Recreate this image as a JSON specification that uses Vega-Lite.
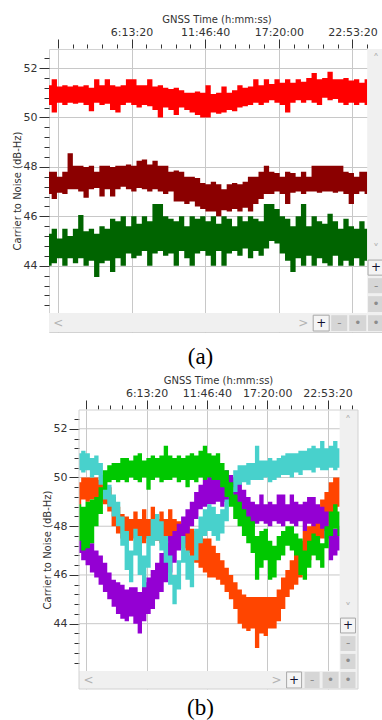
{
"$schema": "https://vega.github.io/schema/vega-lite/v6.json",
"padding": {"left": 11, "top": 13, "right": 0, "bottom": 0},
"background": "white",
"spacing": 5,
"config": {
  "view": {"stroke": "#d2d2d2", "strokeWidth": 1},
  "axis": {"labelFont": "DejaVu Sans", "labelFontSize": 11, "labelColor": "#333333", "titleFont": "DejaVu Sans", "titleFontSize": 10, "titleFontWeight": "normal", "titleColor": "#333333", "tickColor": "#333333", "tickWidth": 1, "gridColor": "#c8c8c8", "gridWidth": 1, "domain": false, "labelOverlap": false, "labelFlush": false}
},
"datasets": {
"aR": [{"t":0,"lo":50.5,"hi":51.3},{"t":1440,"lo":50.2,"hi":51.55},{"t":2880,"lo":50.6,"hi":51.25},{"t":4320,"lo":50.5,"hi":51.3},{"t":5760,"lo":50.6,"hi":51.25},{"t":7200,"lo":50.55,"hi":51.3},{"t":8640,"lo":50.6,"hi":51.25},{"t":10080,"lo":50.5,"hi":51.3},{"t":11520,"lo":50.25,"hi":51.2},{"t":12960,"lo":50.6,"hi":51.55},{"t":14400,"lo":50.5,"hi":51.3},{"t":15840,"lo":50.55,"hi":51.55},{"t":17280,"lo":50.3,"hi":51.3},{"t":18720,"lo":50.2,"hi":51.25},{"t":20160,"lo":50.5,"hi":51.3},{"t":21600,"lo":50.6,"hi":51.55},{"t":23040,"lo":50.5,"hi":51.55},{"t":24480,"lo":50.4,"hi":51.3},{"t":25920,"lo":50.5,"hi":51.3},{"t":27360,"lo":50.45,"hi":51.55},{"t":28800,"lo":50.3,"hi":51.25},{"t":30240,"lo":50.0,"hi":51.3},{"t":31680,"lo":50.4,"hi":51.2},{"t":33120,"lo":50.3,"hi":51.15},{"t":34560,"lo":50.1,"hi":51.2},{"t":36000,"lo":50.4,"hi":51.1},{"t":37440,"lo":50.3,"hi":51.0},{"t":38880,"lo":50.2,"hi":51.0},{"t":40320,"lo":50.1,"hi":51.05},{"t":41760,"lo":50.0,"hi":51.0},{"t":43200,"lo":50.0,"hi":51.3},{"t":44640,"lo":50.2,"hi":50.95},{"t":46080,"lo":50.15,"hi":51.0},{"t":47520,"lo":50.2,"hi":51.25},{"t":48960,"lo":50.3,"hi":51.0},{"t":50400,"lo":50.25,"hi":51.1},{"t":51840,"lo":50.4,"hi":51.3},{"t":53280,"lo":50.45,"hi":51.2},{"t":54720,"lo":50.5,"hi":51.25},{"t":56160,"lo":50.6,"hi":51.55},{"t":57600,"lo":50.5,"hi":51.3},{"t":59040,"lo":50.6,"hi":51.55},{"t":60480,"lo":50.7,"hi":51.35},{"t":61920,"lo":50.6,"hi":51.55},{"t":63360,"lo":50.5,"hi":51.4},{"t":64800,"lo":50.2,"hi":51.55},{"t":66240,"lo":50.6,"hi":51.4},{"t":67680,"lo":50.7,"hi":51.55},{"t":69120,"lo":50.6,"hi":51.45},{"t":70560,"lo":50.7,"hi":51.6},{"t":72000,"lo":50.6,"hi":51.8},{"t":73440,"lo":50.5,"hi":51.55},{"t":74880,"lo":50.8,"hi":51.6},{"t":76320,"lo":50.7,"hi":51.85},{"t":77760,"lo":50.75,"hi":51.55},{"t":79200,"lo":50.6,"hi":51.55},{"t":80640,"lo":50.5,"hi":51.6},{"t":82080,"lo":50.6,"hi":51.5},{"t":83520,"lo":50.5,"hi":51.55},{"t":84960,"lo":50.6,"hi":51.4},{"t":86400,"lo":50.5,"hi":51.55}],
"aD": [{"t":0,"lo":46.9,"hi":47.8},{"t":1440,"lo":46.7,"hi":47.8},{"t":2880,"lo":46.95,"hi":47.6},{"t":4320,"lo":46.9,"hi":47.8},{"t":5760,"lo":47.1,"hi":48.55},{"t":7200,"lo":47.1,"hi":48.05},{"t":8640,"lo":47.0,"hi":48.05},{"t":10080,"lo":46.75,"hi":48.0},{"t":11520,"lo":47.1,"hi":48.05},{"t":12960,"lo":47.15,"hi":47.8},{"t":14400,"lo":46.8,"hi":48.05},{"t":15840,"lo":47.1,"hi":48.05},{"t":17280,"lo":46.8,"hi":48.0},{"t":18720,"lo":47.1,"hi":48.05},{"t":20160,"lo":47.2,"hi":48.05},{"t":21600,"lo":47.1,"hi":48.1},{"t":23040,"lo":47.0,"hi":48.05},{"t":24480,"lo":47.15,"hi":48.25},{"t":25920,"lo":47.1,"hi":48.3},{"t":27360,"lo":47.0,"hi":48.1},{"t":28800,"lo":47.1,"hi":48.25},{"t":30240,"lo":47.0,"hi":48.05},{"t":31680,"lo":46.9,"hi":48.05},{"t":33120,"lo":47.0,"hi":47.8},{"t":34560,"lo":46.6,"hi":47.85},{"t":36000,"lo":46.6,"hi":47.8},{"t":37440,"lo":46.5,"hi":47.6},{"t":38880,"lo":46.6,"hi":47.6},{"t":40320,"lo":46.4,"hi":47.55},{"t":41760,"lo":46.3,"hi":47.35},{"t":43200,"lo":46.2,"hi":47.3},{"t":44640,"lo":46.2,"hi":47.4},{"t":46080,"lo":46.0,"hi":47.3},{"t":47520,"lo":46.25,"hi":47.1},{"t":48960,"lo":46.2,"hi":47.3},{"t":50400,"lo":46.3,"hi":47.35},{"t":51840,"lo":46.2,"hi":47.3},{"t":53280,"lo":46.35,"hi":47.4},{"t":54720,"lo":46.2,"hi":47.6},{"t":56160,"lo":46.5,"hi":47.6},{"t":57600,"lo":46.7,"hi":47.8},{"t":59040,"lo":46.9,"hi":48.05},{"t":60480,"lo":46.9,"hi":47.8},{"t":61920,"lo":47.0,"hi":47.75},{"t":63360,"lo":46.9,"hi":47.6},{"t":64800,"lo":46.5,"hi":47.8},{"t":66240,"lo":46.95,"hi":47.75},{"t":67680,"lo":47.0,"hi":47.6},{"t":69120,"lo":46.9,"hi":47.8},{"t":70560,"lo":47.0,"hi":47.6},{"t":72000,"lo":47.0,"hi":48.05},{"t":73440,"lo":46.95,"hi":48.05},{"t":74880,"lo":47.0,"hi":48.05},{"t":76320,"lo":47.0,"hi":48.05},{"t":77760,"lo":46.95,"hi":48.05},{"t":79200,"lo":47.0,"hi":48.05},{"t":80640,"lo":46.9,"hi":47.8},{"t":82080,"lo":46.5,"hi":47.75},{"t":83520,"lo":46.9,"hi":47.6},{"t":84960,"lo":47.0,"hi":47.8},{"t":86400,"lo":46.9,"hi":47.8}],
"aG": [{"t":0,"lo":44.0,"hi":45.3},{"t":1440,"lo":44.1,"hi":45.5},{"t":2880,"lo":44.3,"hi":45.1},{"t":4320,"lo":44.0,"hi":45.5},{"t":5760,"lo":44.3,"hi":45.2},{"t":7200,"lo":44.1,"hi":45.5},{"t":8640,"lo":44.3,"hi":46.05},{"t":10080,"lo":44.0,"hi":45.4},{"t":11520,"lo":44.2,"hi":45.5},{"t":12960,"lo":43.55,"hi":45.3},{"t":14400,"lo":44.1,"hi":45.6},{"t":15840,"lo":44.2,"hi":45.5},{"t":17280,"lo":43.75,"hi":45.9},{"t":18720,"lo":44.3,"hi":45.8},{"t":20160,"lo":44.0,"hi":46.0},{"t":21600,"lo":44.5,"hi":45.6},{"t":23040,"lo":44.3,"hi":46.0},{"t":24480,"lo":44.4,"hi":45.7},{"t":25920,"lo":44.6,"hi":46.0},{"t":27360,"lo":44.0,"hi":45.8},{"t":28800,"lo":44.5,"hi":46.5},{"t":30240,"lo":44.6,"hi":46.5},{"t":31680,"lo":44.4,"hi":46.0},{"t":33120,"lo":44.5,"hi":45.9},{"t":34560,"lo":44.0,"hi":45.8},{"t":36000,"lo":44.6,"hi":46.0},{"t":37440,"lo":44.3,"hi":45.6},{"t":38880,"lo":44.0,"hi":46.0},{"t":40320,"lo":44.5,"hi":45.9},{"t":41760,"lo":44.6,"hi":46.0},{"t":43200,"lo":44.4,"hi":45.8},{"t":44640,"lo":44.0,"hi":46.0},{"t":46080,"lo":44.6,"hi":45.7},{"t":47520,"lo":44.0,"hi":46.0},{"t":48960,"lo":44.5,"hi":45.9},{"t":50400,"lo":44.6,"hi":45.6},{"t":51840,"lo":44.4,"hi":46.0},{"t":53280,"lo":44.7,"hi":45.8},{"t":54720,"lo":44.3,"hi":46.0},{"t":56160,"lo":44.6,"hi":45.9},{"t":57600,"lo":44.4,"hi":45.8},{"t":59040,"lo":44.7,"hi":46.5},{"t":60480,"lo":45.0,"hi":46.5},{"t":61920,"lo":44.9,"hi":46.3},{"t":63360,"lo":44.5,"hi":46.0},{"t":64800,"lo":44.2,"hi":45.9},{"t":66240,"lo":43.75,"hi":45.6},{"t":67680,"lo":44.3,"hi":46.0},{"t":69120,"lo":44.0,"hi":46.5},{"t":70560,"lo":44.4,"hi":45.6},{"t":72000,"lo":44.0,"hi":46.0},{"t":73440,"lo":44.3,"hi":45.8},{"t":74880,"lo":44.1,"hi":45.7},{"t":76320,"lo":44.0,"hi":46.1},{"t":77760,"lo":44.4,"hi":45.8},{"t":79200,"lo":44.0,"hi":45.5},{"t":80640,"lo":44.2,"hi":45.9},{"t":82080,"lo":44.0,"hi":45.6},{"t":83520,"lo":44.3,"hi":45.5},{"t":84960,"lo":44.0,"hi":45.8},{"t":86400,"lo":44.2,"hi":45.5}],
"bC": [{"t":0,"lo":50.3,"hi":51.0},{"t":1440,"lo":50.2,"hi":51.1},{"t":2880,"lo":50.3,"hi":51.0},{"t":4320,"lo":50.0,"hi":50.8},{"t":5760,"lo":50.1,"hi":50.9},{"t":7200,"lo":49.7,"hi":50.6},{"t":8640,"lo":49.1,"hi":50.1},{"t":10080,"lo":48.8,"hi":49.7},{"t":11520,"lo":48.4,"hi":49.3},{"t":12960,"lo":48.0,"hi":49.0},{"t":14400,"lo":47.2,"hi":48.4},{"t":15840,"lo":46.2,"hi":47.8},{"t":17280,"lo":45.7,"hi":47.0},{"t":18720,"lo":46.8,"hi":47.9},{"t":20160,"lo":46.0,"hi":47.6},{"t":21600,"lo":45.5,"hi":46.8},{"t":23040,"lo":46.3,"hi":47.6},{"t":24480,"lo":47.2,"hi":48.3},{"t":25920,"lo":47.4,"hi":48.5},{"t":27360,"lo":47.0,"hi":48.2},{"t":28800,"lo":46.5,"hi":47.6},{"t":30240,"lo":45.6,"hi":46.8},{"t":31680,"lo":44.8,"hi":46.0},{"t":33120,"lo":45.4,"hi":46.6},{"t":34560,"lo":46.5,"hi":47.6},{"t":36000,"lo":45.8,"hi":47.0},{"t":37440,"lo":45.5,"hi":46.8},{"t":38880,"lo":46.6,"hi":47.9},{"t":40320,"lo":47.3,"hi":48.4},{"t":41760,"lo":47.6,"hi":48.7},{"t":43200,"lo":47.8,"hi":48.9},{"t":44640,"lo":47.6,"hi":48.8},{"t":46080,"lo":47.4,"hi":48.5},{"t":47520,"lo":47.7,"hi":48.7},{"t":48960,"lo":48.2,"hi":49.1},{"t":50400,"lo":48.9,"hi":49.6},{"t":51840,"lo":49.4,"hi":50.3},{"t":53280,"lo":49.7,"hi":50.5},{"t":54720,"lo":49.8,"hi":50.5},{"t":56160,"lo":49.7,"hi":50.6},{"t":57600,"lo":49.9,"hi":50.6},{"t":59040,"lo":49.9,"hi":51.3},{"t":60480,"lo":49.9,"hi":50.7},{"t":61920,"lo":50.0,"hi":50.7},{"t":63360,"lo":49.8,"hi":50.8},{"t":64800,"lo":49.9,"hi":50.7},{"t":66240,"lo":50.0,"hi":50.8},{"t":67680,"lo":50.1,"hi":50.9},{"t":69120,"lo":50.1,"hi":51.0},{"t":70560,"lo":50.0,"hi":51.0},{"t":72000,"lo":50.2,"hi":51.0},{"t":73440,"lo":50.1,"hi":51.1},{"t":74880,"lo":50.3,"hi":51.1},{"t":76320,"lo":50.3,"hi":51.2},{"t":77760,"lo":50.2,"hi":51.3},{"t":79200,"lo":50.4,"hi":51.2},{"t":80640,"lo":50.3,"hi":51.5},{"t":82080,"lo":50.3,"hi":51.2},{"t":83520,"lo":50.4,"hi":51.3},{"t":84960,"lo":50.3,"hi":51.5},{"t":86400,"lo":50.4,"hi":51.2}],
"bG": [{"t":0,"lo":47.4,"hi":48.9},{"t":1440,"lo":47.0,"hi":48.8},{"t":2880,"lo":47.1,"hi":49.0},{"t":4320,"lo":47.3,"hi":49.1},{"t":5760,"lo":48.0,"hi":49.2},{"t":7200,"lo":48.5,"hi":49.6},{"t":8640,"lo":49.5,"hi":50.3},{"t":10080,"lo":49.8,"hi":50.5},{"t":11520,"lo":49.9,"hi":50.6},{"t":12960,"lo":49.8,"hi":50.6},{"t":14400,"lo":49.9,"hi":50.8},{"t":15840,"lo":49.8,"hi":50.8},{"t":17280,"lo":50.0,"hi":50.7},{"t":18720,"lo":49.9,"hi":50.9},{"t":20160,"lo":49.8,"hi":51.0},{"t":21600,"lo":50.0,"hi":50.7},{"t":23040,"lo":49.5,"hi":50.8},{"t":24480,"lo":49.9,"hi":50.9},{"t":25920,"lo":50.0,"hi":50.8},{"t":27360,"lo":49.8,"hi":50.9},{"t":28800,"lo":49.9,"hi":51.3},{"t":30240,"lo":49.9,"hi":50.9},{"t":31680,"lo":50.0,"hi":50.8},{"t":33120,"lo":49.8,"hi":50.9},{"t":34560,"lo":49.9,"hi":50.8},{"t":36000,"lo":49.6,"hi":50.9},{"t":37440,"lo":49.9,"hi":51.0},{"t":38880,"lo":49.8,"hi":50.9},{"t":40320,"lo":50.0,"hi":51.1},{"t":41760,"lo":49.9,"hi":51.3},{"t":43200,"lo":50.0,"hi":51.0},{"t":44640,"lo":49.9,"hi":50.9},{"t":46080,"lo":49.9,"hi":51.0},{"t":47520,"lo":49.6,"hi":50.6},{"t":48960,"lo":49.2,"hi":50.3},{"t":50400,"lo":48.8,"hi":49.8},{"t":51840,"lo":48.3,"hi":49.3},{"t":53280,"lo":48.0,"hi":49.0},{"t":54720,"lo":47.6,"hi":48.7},{"t":56160,"lo":47.3,"hi":48.4},{"t":57600,"lo":46.9,"hi":48.2},{"t":59040,"lo":45.8,"hi":47.6},{"t":60480,"lo":46.3,"hi":47.8},{"t":61920,"lo":46.6,"hi":47.9},{"t":63360,"lo":45.8,"hi":47.4},{"t":64800,"lo":45.9,"hi":47.2},{"t":66240,"lo":46.6,"hi":47.6},{"t":67680,"lo":46.8,"hi":47.8},{"t":69120,"lo":47.2,"hi":48.0},{"t":70560,"lo":47.0,"hi":48.0},{"t":72000,"lo":46.8,"hi":47.7},{"t":73440,"lo":46.0,"hi":47.5},{"t":74880,"lo":45.8,"hi":47.0},{"t":76320,"lo":46.3,"hi":47.4},{"t":77760,"lo":46.8,"hi":47.7},{"t":79200,"lo":46.6,"hi":47.6},{"t":80640,"lo":46.3,"hi":47.3},{"t":82080,"lo":47.1,"hi":48.0},{"t":83520,"lo":47.6,"hi":48.6},{"t":84960,"lo":47.9,"hi":48.9},{"t":86400,"lo":47.6,"hi":48.6}],
"bP": [{"t":0,"lo":46.9,"hi":48.1},{"t":1440,"lo":46.6,"hi":47.8},{"t":2880,"lo":46.4,"hi":47.6},{"t":4320,"lo":46.1,"hi":47.3},{"t":5760,"lo":45.9,"hi":47.0},{"t":7200,"lo":45.6,"hi":46.8},{"t":8640,"lo":45.3,"hi":46.5},{"t":10080,"lo":45.0,"hi":46.1},{"t":11520,"lo":44.7,"hi":45.8},{"t":12960,"lo":44.4,"hi":45.7},{"t":14400,"lo":44.2,"hi":45.6},{"t":15840,"lo":44.1,"hi":45.4},{"t":17280,"lo":44.3,"hi":45.5},{"t":18720,"lo":44.0,"hi":45.5},{"t":20160,"lo":43.6,"hi":45.3},{"t":21600,"lo":44.1,"hi":45.7},{"t":23040,"lo":44.4,"hi":45.9},{"t":24480,"lo":44.6,"hi":46.2},{"t":25920,"lo":45.0,"hi":46.5},{"t":27360,"lo":45.3,"hi":46.9},{"t":28800,"lo":45.7,"hi":47.3},{"t":30240,"lo":46.1,"hi":47.6},{"t":31680,"lo":46.5,"hi":47.8},{"t":33120,"lo":47.0,"hi":48.1},{"t":34560,"lo":47.3,"hi":48.4},{"t":36000,"lo":47.7,"hi":48.7},{"t":37440,"lo":48.0,"hi":49.0},{"t":38880,"lo":48.3,"hi":49.4},{"t":40320,"lo":48.7,"hi":49.7},{"t":41760,"lo":48.8,"hi":49.9},{"t":43200,"lo":48.9,"hi":50.1},{"t":44640,"lo":48.9,"hi":50.0},{"t":46080,"lo":49.0,"hi":50.2},{"t":47520,"lo":48.8,"hi":50.1},{"t":48960,"lo":49.0,"hi":50.3},{"t":50400,"lo":49.0,"hi":50.1},{"t":51840,"lo":48.9,"hi":50.0},{"t":53280,"lo":48.6,"hi":49.8},{"t":54720,"lo":48.3,"hi":49.5},{"t":56160,"lo":48.1,"hi":49.2},{"t":57600,"lo":48.0,"hi":49.0},{"t":59040,"lo":48.1,"hi":48.9},{"t":60480,"lo":48.2,"hi":49.3},{"t":61920,"lo":48.1,"hi":48.9},{"t":63360,"lo":48.0,"hi":49.0},{"t":64800,"lo":48.2,"hi":48.9},{"t":66240,"lo":48.1,"hi":49.3},{"t":67680,"lo":48.0,"hi":49.3},{"t":69120,"lo":48.2,"hi":48.9},{"t":70560,"lo":48.1,"hi":49.3},{"t":72000,"lo":48.0,"hi":49.0},{"t":73440,"lo":48.2,"hi":48.9},{"t":74880,"lo":47.8,"hi":49.0},{"t":76320,"lo":48.1,"hi":49.2},{"t":77760,"lo":48.0,"hi":49.2},{"t":79200,"lo":48.1,"hi":48.9},{"t":80640,"lo":47.9,"hi":48.8},{"t":82080,"lo":47.5,"hi":48.6},{"t":83520,"lo":46.6,"hi":48.0},{"t":84960,"lo":46.8,"hi":47.9},{"t":86400,"lo":47.0,"hi":48.0}],
"bO": [{"t":0,"lo":48.8,"hi":49.8},{"t":1440,"lo":49.1,"hi":50.0},{"t":2880,"lo":49.0,"hi":50.0},{"t":4320,"lo":49.1,"hi":50.0},{"t":5760,"lo":49.1,"hi":50.0},{"t":7200,"lo":49.0,"hi":49.9},{"t":8640,"lo":48.9,"hi":49.9},{"t":10080,"lo":48.6,"hi":49.6},{"t":11520,"lo":48.0,"hi":49.2},{"t":12960,"lo":47.7,"hi":48.8},{"t":14400,"lo":47.5,"hi":48.5},{"t":15840,"lo":47.4,"hi":48.4},{"t":17280,"lo":47.4,"hi":48.3},{"t":18720,"lo":47.5,"hi":48.6},{"t":20160,"lo":47.4,"hi":48.3},{"t":21600,"lo":47.3,"hi":48.7},{"t":23040,"lo":47.5,"hi":48.3},{"t":24480,"lo":47.4,"hi":48.8},{"t":25920,"lo":47.4,"hi":48.3},{"t":27360,"lo":47.3,"hi":48.6},{"t":28800,"lo":47.5,"hi":48.3},{"t":30240,"lo":47.4,"hi":48.7},{"t":31680,"lo":47.4,"hi":48.3},{"t":33120,"lo":47.2,"hi":48.2},{"t":34560,"lo":47.1,"hi":48.1},{"t":36000,"lo":46.9,"hi":48.0},{"t":37440,"lo":46.7,"hi":47.9},{"t":38880,"lo":46.5,"hi":47.8},{"t":40320,"lo":46.3,"hi":47.6},{"t":41760,"lo":46.1,"hi":47.5},{"t":43200,"lo":45.9,"hi":47.5},{"t":44640,"lo":45.9,"hi":47.2},{"t":46080,"lo":45.8,"hi":46.9},{"t":47520,"lo":45.6,"hi":46.6},{"t":48960,"lo":45.3,"hi":46.3},{"t":50400,"lo":45.0,"hi":46.0},{"t":51840,"lo":44.6,"hi":45.7},{"t":53280,"lo":44.0,"hi":45.4},{"t":54720,"lo":43.8,"hi":45.2},{"t":56160,"lo":43.7,"hi":45.1},{"t":57600,"lo":43.8,"hi":45.1},{"t":59040,"lo":43.0,"hi":45.1},{"t":60480,"lo":43.6,"hi":45.1},{"t":61920,"lo":43.5,"hi":45.1},{"t":63360,"lo":43.8,"hi":45.1},{"t":64800,"lo":43.8,"hi":45.1},{"t":66240,"lo":44.1,"hi":45.4},{"t":67680,"lo":44.6,"hi":45.9},{"t":69120,"lo":45.1,"hi":46.2},{"t":70560,"lo":45.4,"hi":46.6},{"t":72000,"lo":45.6,"hi":47.0},{"t":73440,"lo":45.9,"hi":47.4},{"t":74880,"lo":46.3,"hi":47.8},{"t":76320,"lo":46.6,"hi":48.0},{"t":77760,"lo":46.9,"hi":48.1},{"t":79200,"lo":47.2,"hi":48.7},{"t":80640,"lo":47.5,"hi":49.1},{"t":82080,"lo":47.8,"hi":49.4},{"t":83520,"lo":48.2,"hi":49.8},{"t":84960,"lo":48.5,"hi":50.0},{"t":86400,"lo":48.8,"hi":50.0}],
"aUI": [{"k":"s","t":86400,"t2":90953,"lo":41.32,"hi":52.77},{"k":"s","t":0,"t2":86400,"lo":41.32,"hi":42.085},{"k":"w","t":86620,"t2":90870,"lo":43.62,"hi":44.23},{"k":"w","t":71730,"t2":76070,"lo":41.36,"hi":42.0},{"k":"g","t":86620,"t2":90870,"lo":42.89,"hi":43.5},{"k":"g","t":86620,"t2":90870,"lo":42.13,"hi":42.77},{"k":"g","t":76620,"t2":80960,"lo":41.36,"hi":42.0},{"k":"g","t":81510,"t2":86120,"lo":41.36,"hi":42.0},{"k":"g","t":86620,"t2":90870,"lo":41.36,"hi":42.0}],
"aGl": [{"k":"c","t":88800,"lo":52.36,"g":"˄"},{"k":"c","t":88800,"lo":44.67,"g":"˅"},{"k":"c","t":2500,"lo":41.68,"g":"<"},{"k":"c","t":69020,"lo":41.68,"g":">"},{"k":"p","t":73940,"lo":41.68,"g":"+"},{"k":"p","t":88800,"lo":43.93,"g":"+"},{"k":"m","t":78820,"lo":41.68,"g":"-"},{"k":"m","t":88800,"lo":43.2,"g":"-"},{"k":"m","t":83810,"lo":41.68,"g":"•"},{"k":"m","t":88800,"lo":42.45,"g":"•"},{"k":"m","t":88800,"lo":41.68,"g":"•"}],
"bGrid": [{"lo":44,"t":0,"t2":92490},{"lo":46,"t":0,"t2":92490},{"lo":48,"t":0,"t2":92490},{"lo":50,"t":0,"t2":92490},{"lo":52,"t":0,"t2":92490}],
"bUI": [{"k":"s","t":86400,"t2":92490,"lo":41.32,"hi":52.77},{"k":"s","t":0,"t2":86400,"lo":41.32,"hi":42.06},{"k":"w","t":86690,"t2":91660,"lo":43.62,"hi":44.23},{"k":"w","t":68820,"t2":73790,"lo":41.36,"hi":42.02},{"k":"g","t":86690,"t2":91660,"lo":42.88,"hi":43.49},{"k":"g","t":86690,"t2":91660,"lo":42.14,"hi":42.76},{"k":"g","t":74790,"t2":79760,"lo":41.36,"hi":42.02},{"k":"g","t":80750,"t2":86050,"lo":41.36,"hi":42.02},{"k":"g","t":86690,"t2":91660,"lo":41.36,"hi":42.02},{"k":"f","t":0,"t2":92490,"lo":41.32,"hi":52.77}],
"bGl": [{"k":"c","t":89200,"lo":52.32,"g":"˄"},{"k":"c","t":89200,"lo":44.66,"g":"˅"},{"k":"c","t":3180,"lo":41.69,"g":"<"},{"k":"c","t":65500,"lo":41.69,"g":">"},{"k":"p","t":71300,"lo":41.69,"g":"+"},{"k":"p","t":89200,"lo":43.93,"g":"+"},{"k":"m","t":77270,"lo":41.69,"g":"-"},{"k":"m","t":89200,"lo":43.19,"g":"-"},{"k":"m","t":83400,"lo":41.69,"g":"•"},{"k":"m","t":89200,"lo":42.45,"g":"•"},{"k":"m","t":89200,"lo":41.69,"g":"•"}]
},
"vconcat": [
{"width": 335, "height": 283,
 "title": {"text": "(a)", "orient": "bottom", "anchor": "middle", "dx": -16, "offset": 14, "font": "Liberation Serif", "fontSize": 23, "fontWeight": "normal", "color": "#000000"},
 "layer": [
  {"data": {"name": "aR"}, "mark": {"type": "area", "interpolate": "step", "color": "#ff0000"},
   "encoding": {
    "x": {"field": "t", "type": "quantitative", "scale": {"domain": [0, 90953], "nice": false, "zero": false},
      "axis": {"orient": "top", "title": "GNSS Time (h:mm:ss)", "titlePadding": 2, "labelPadding": 2, "offset": 1, "grid": true, "tickCount": 200, "labelOverlap": false, "labelFlush": false, "labelBound": false,
        "values": [2400,6400,10400,14400,18400,22400,26400,30400,34400,38400,42400,46400,50400,54400,58400,62400,66400,70400,74400,78400,82400,86400,90400],
        "labelExpr": "indexof([22400,42400,62400,82400], datum.value) >= 0 ? floor(datum.value/3600)+':'+utcFormat(datum.value*1000,'%M:%S') : ''",
        "tickSize": {"condition": {"test": "indexof([2400,22400,42400,62400,82400], datum.value) >= 0", "value": 9}, "value": 4},
        "gridOpacity": {"condition": {"test": "indexof([2400,22400,42400,62400,82400], datum.value) >= 0", "value": 1}, "value": 0}}},
    "y": {"field": "lo", "type": "quantitative", "scale": {"domain": [41.32, 52.77], "nice": false, "zero": false},
      "axis": {"title": "Carrier to Noise (dB-Hz)", "titlePadding": 1, "labelPadding": 2, "grid": true, "tickCount": 200, "labelOverlap": false, "labelFlush": false, "labelBound": false,
        "values": [42.4,42.8,43.2,43.6,44,44.4,44.8,45.2,45.6,46,46.4,46.8,47.2,47.6,48,48.4,48.8,49.2,49.6,50,50.4,50.8,51.2,51.6,52,52.4],
        "labelExpr": "indexof([44,46,48,50,52], datum.value) >= 0 ? format(datum.value,'d') : ''",
        "tickSize": {"condition": {"test": "indexof([44,46,48,50,52], datum.value) >= 0", "value": 10}, "value": 5},
        "gridOpacity": {"condition": {"test": "indexof([44,46,48,50,52], datum.value) >= 0", "value": 1}, "value": 0}}},
    "y2": {"field": "hi"}}},
  {"data": {"name": "aD"}, "mark": {"type": "area", "interpolate": "step", "color": "#8b0000"},
   "encoding": {"x": {"field": "t", "type": "quantitative"}, "y": {"field": "lo", "type": "quantitative"}, "y2": {"field": "hi"}}},
  {"data": {"name": "aG"}, "mark": {"type": "area", "interpolate": "step", "color": "#006400"},
   "encoding": {"x": {"field": "t", "type": "quantitative"}, "y": {"field": "lo", "type": "quantitative"}, "y2": {"field": "hi"}}},
  {"data": {"name": "aUI"}, "transform": [{"filter": "datum.k=='s'"}], "mark": {"type": "rect", "fill": "#f0f0f0"},
   "encoding": {"x": {"field": "t", "type": "quantitative"}, "x2": {"field": "t2"}, "y": {"field": "lo", "type": "quantitative"}, "y2": {"field": "hi"}}},
  {"data": {"name": "aUI"}, "transform": [{"filter": "datum.k=='g'"}], "mark": {"type": "rect", "fill": "#d6d6d6"},
   "encoding": {"x": {"field": "t", "type": "quantitative"}, "x2": {"field": "t2"}, "y": {"field": "lo", "type": "quantitative"}, "y2": {"field": "hi"}}},
  {"data": {"name": "aUI"}, "transform": [{"filter": "datum.k=='w'"}], "mark": {"type": "rect", "fill": "#f4f4f4", "stroke": "#a8a8a8", "strokeWidth": 1},
   "encoding": {"x": {"field": "t", "type": "quantitative"}, "x2": {"field": "t2"}, "y": {"field": "lo", "type": "quantitative"}, "y2": {"field": "hi"}}},
  {"data": {"name": "aGl"}, "mark": {"type": "text", "font": "DejaVu Sans", "fontSize": 12, "align": "center", "baseline": "middle"},
   "encoding": {"x": {"field": "t", "type": "quantitative"}, "y": {"field": "lo", "type": "quantitative"}, "text": {"field": "g"},
     "color": {"field": "k", "type": "nominal", "scale": {"domain": ["c", "p", "m"], "range": ["#b4b4b4", "#101030", "#8c8c8c"]}, "legend": null}}}
 ]},
{"width": 309, "height": 279, "view": {"stroke": null},
 "title": {"text": "(b)", "orient": "bottom", "anchor": "middle", "dx": -3, "offset": 7, "font": "Liberation Serif", "fontSize": 23, "fontWeight": "normal", "color": "#000000"},
 "layer": [
  {"data": {"name": "bGrid"}, "mark": {"type": "rule", "color": "#c8c8c8", "strokeWidth": 1},
   "encoding": {
    "x": {"field": "t", "type": "quantitative", "scale": {"domain": [-9950, 92490], "nice": false, "zero": false},
      "axis": {"orient": "top", "title": "GNSS Time (h:mm:ss)", "titleX": 169, "titlePadding": 2, "labelPadding": 2, "offset": 1, "grid": true, "tickCount": 200, "labelOverlap": false, "labelFlush": false, "labelBound": false,
        "values": [2400,6400,10400,14400,18400,22400,26400,30400,34400,38400,42400,46400,50400,54400,58400,62400,66400,70400,74400,78400,82400,86400,90400],
        "labelExpr": "indexof([22400,42400,62400,82400], datum.value) >= 0 ? floor(datum.value/3600)+':'+utcFormat(datum.value*1000,'%M:%S') : ''",
        "tickSize": {"condition": {"test": "indexof([2400,22400,42400,62400,82400], datum.value) >= 0", "value": 9}, "value": 4},
        "gridOpacity": {"condition": {"test": "indexof([2400,22400,42400,62400,82400], datum.value) >= 0", "value": 1}, "value": 0}}},
    "x2": {"field": "t2"},
    "y": {"field": "lo", "type": "quantitative", "scale": {"domain": [41.32, 52.77], "nice": false, "zero": false},
      "axis": {"title": "Carrier to Noise (dB-Hz)", "offset": -30, "titlePadding": 1, "labelPadding": 2, "grid": false, "tickCount": 200, "labelOverlap": false, "labelFlush": false, "labelBound": false,
        "values": [42.4,42.8,43.2,43.6,44,44.4,44.8,45.2,45.6,46,46.4,46.8,47.2,47.6,48,48.4,48.8,49.2,49.6,50,50.4,50.8,51.2,51.6,52,52.4],
        "labelExpr": "indexof([44,46,48,50,52], datum.value) >= 0 ? format(datum.value,'d') : ''",
        "tickSize": {"condition": {"test": "indexof([44,46,48,50,52], datum.value) >= 0", "value": 10}, "value": 5}}}}},
  {"data": {"name": "bO"}, "mark": {"type": "area", "interpolate": "step", "color": "#ff4500"},
   "encoding": {"x": {"field": "t", "type": "quantitative"}, "y": {"field": "lo", "type": "quantitative"}, "y2": {"field": "hi"}}},
  {"data": {"name": "bP"}, "mark": {"type": "area", "interpolate": "step", "color": "#9400d3"},
   "encoding": {"x": {"field": "t", "type": "quantitative"}, "y": {"field": "lo", "type": "quantitative"}, "y2": {"field": "hi"}}},
  {"data": {"name": "bC"}, "mark": {"type": "area", "interpolate": "step", "color": "#48d1cc"},
   "encoding": {"x": {"field": "t", "type": "quantitative"}, "y": {"field": "lo", "type": "quantitative"}, "y2": {"field": "hi"}}},
  {"data": {"name": "bG"}, "mark": {"type": "area", "interpolate": "step", "color": "#00c800"},
   "encoding": {"x": {"field": "t", "type": "quantitative"}, "y": {"field": "lo", "type": "quantitative"}, "y2": {"field": "hi"}}},
  {"data": {"name": "bUI"}, "transform": [{"filter": "datum.k=='s'"}], "mark": {"type": "rect", "fill": "#f0f0f0"},
   "encoding": {"x": {"field": "t", "type": "quantitative"}, "x2": {"field": "t2"}, "y": {"field": "lo", "type": "quantitative"}, "y2": {"field": "hi"}}},
  {"data": {"name": "bUI"}, "transform": [{"filter": "datum.k=='g'"}], "mark": {"type": "rect", "fill": "#d6d6d6"},
   "encoding": {"x": {"field": "t", "type": "quantitative"}, "x2": {"field": "t2"}, "y": {"field": "lo", "type": "quantitative"}, "y2": {"field": "hi"}}},
  {"data": {"name": "bUI"}, "transform": [{"filter": "datum.k=='w'"}], "mark": {"type": "rect", "fill": "#f4f4f4", "stroke": "#a8a8a8", "strokeWidth": 1},
   "encoding": {"x": {"field": "t", "type": "quantitative"}, "x2": {"field": "t2"}, "y": {"field": "lo", "type": "quantitative"}, "y2": {"field": "hi"}}},
  {"data": {"name": "bUI"}, "transform": [{"filter": "datum.k=='f'"}], "mark": {"type": "rect", "fill": null, "stroke": "#d2d2d2", "strokeWidth": 1},
   "encoding": {"x": {"field": "t", "type": "quantitative"}, "x2": {"field": "t2"}, "y": {"field": "lo", "type": "quantitative"}, "y2": {"field": "hi"}}},
  {"data": {"name": "bGl"}, "mark": {"type": "text", "font": "DejaVu Sans", "fontSize": 12, "align": "center", "baseline": "middle"},
   "encoding": {"x": {"field": "t", "type": "quantitative"}, "y": {"field": "lo", "type": "quantitative"}, "text": {"field": "g"},
     "color": {"field": "k", "type": "nominal", "scale": {"domain": ["c", "p", "m"], "range": ["#b4b4b4", "#101030", "#8c8c8c"]}, "legend": null}}}
 ]}
]
}
